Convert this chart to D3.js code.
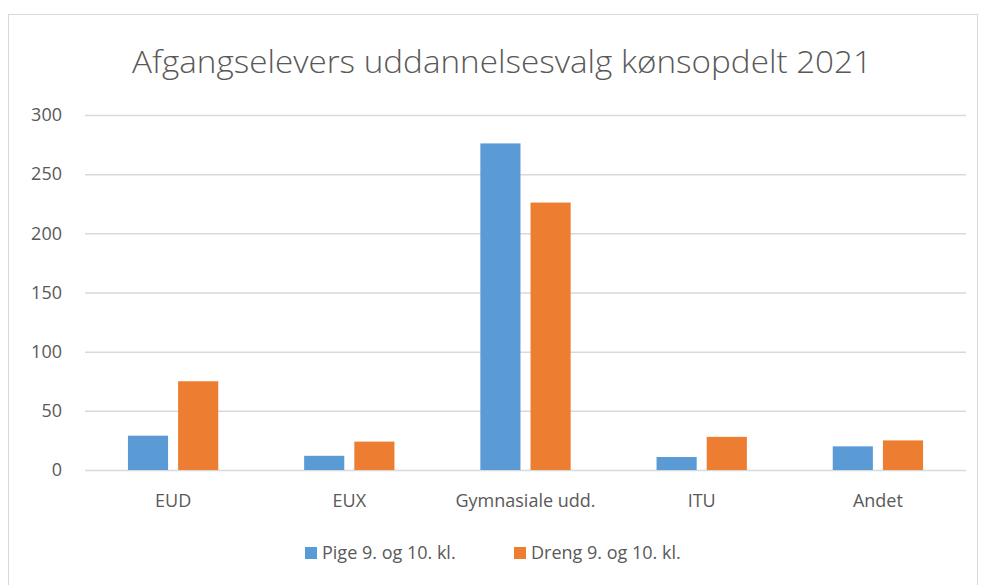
<!DOCTYPE html>
<html>
<head>
<meta charset="utf-8">
<script src="https://cdn.jsdelivr.net/npm/d3@7"></script>
<style>
  body { margin: 0; background: #fff; }
  text { font-family: "Open Sans", "Noto Sans", sans-serif; fill: #595959; }
</style>
</head>
<body>
<div id="chart"></div>
<script>
var categories = ["EUD", "EUX", "Gymnasiale udd.", "ITU", "Andet"];
var seriesNames = ["Pige 9. og 10. kl.", "Dreng 9. og 10. kl."];
var pige = [29, 12, 276, 11, 20];
var dreng = [75, 24, 226, 28, 25];
var yTicks = [0, 50, 100, 150, 200, 250, 300];
var colors = ["#5b9bd5", "#ed7d31"];

var width = 985, height = 585;
var margin = {top: 115, right: 19, bottom: 115, left: 85};

var data = categories.map(function(c, i) {
    return {cat: c, values: [{key: seriesNames[0], value: pige[i]}, {key: seriesNames[1], value: dreng[i]}]};
});

var svg = d3.select("#chart").append("svg")
    .attr("width", width)
    .attr("height", height);

// chart frame
svg.append("rect")
    .attr("x", 8.5).attr("y", 14.5)
    .attr("width", 969).attr("height", 580)
    .attr("fill", "#fff")
    .attr("stroke", "#d9d9d9");

svg.append("text")
    .attr("x", 502)
    .attr("y", 73)
    .attr("text-anchor", "middle")
    .attr("textLength", 740)
    .attr("lengthAdjust", "spacingAndGlyphs")
    .style("font-size", "31px")
    .style("font-weight", "300")
    .text("Afgangselevers uddannelsesvalg kønsopdelt 2021");

var innerW = width - margin.left - margin.right;
var innerH = height - margin.top - margin.bottom;

var g = svg.append("g")
    .attr("transform", "translate(" + margin.left + "," + margin.top + ")");

var x0 = d3.scaleBand().domain(categories).range([0, innerW]).padding(0);
var x1 = d3.scaleBand().domain(seriesNames).range([0, x0.bandwidth()])
    .paddingInner(0.2).paddingOuter(0.856);
var y = d3.scaleLinear().domain([0, 300]).range([innerH, 0]);

var yAxis = d3.axisLeft(y).tickValues(yTicks).tickSize(-innerW).tickPadding(23);
g.append("g")
    .attr("class", "yAxis")
    .call(yAxis)
    .call(function(s) {
        s.select(".domain").remove();
        s.selectAll(".tick line").attr("stroke", "#d9d9d9").attr("stroke-width", 1.5);
        s.selectAll(".tick text").style("font-size", "18px").attr("fill", "#595959");
    });

var xAxis = d3.axisBottom(x0).tickSize(0).tickPadding(24);
g.append("g")
    .attr("transform", "translate(0," + innerH + ")")
    .call(xAxis)
    .call(function(s) {
        s.select(".domain").remove();
        s.selectAll(".tick text").style("font-size", "18px").attr("fill", "#595959");
    });

g.append("g")
    .selectAll("g")
    .data(data)
    .enter().append("g")
    .attr("transform", function(d) { return "translate(" + x0(d.cat) + ",0)"; })
    .selectAll("rect")
    .data(function(d) { return d.values; })
    .enter().append("rect")
    .attr("x", function(d) { return x1(d.key); })
    .attr("y", function(d) { return y(d.value); })
    .attr("width", x1.bandwidth())
    .attr("height", function(d) { return y(0) - y(d.value); })
    .attr("fill", function(d, i) { return colors[i]; });

// legend
var legendX = [305, 514];
var legend = svg.append("g")
    .selectAll("g")
    .data(seriesNames)
    .enter().append("g")
    .attr("transform", function(d, i) { return "translate(" + legendX[i] + ",547)"; });

legend.append("rect")
    .attr("width", 12).attr("height", 12)
    .attr("fill", function(d, i) { return colors[i]; });

legend.append("text")
    .attr("x", 17)
    .attr("y", 12)
    .style("font-size", "18px")
    .text(function(d) { return d; });
</script>
</body>
</html>
